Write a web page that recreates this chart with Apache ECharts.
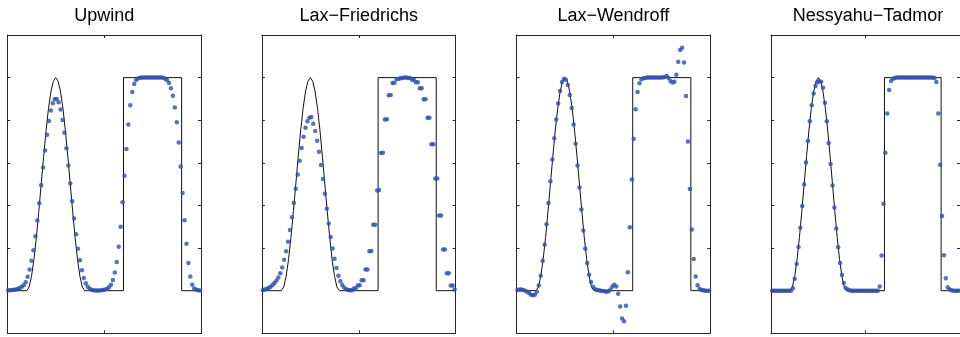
<!DOCTYPE html>
<html>
<head>
<meta charset="utf-8">
<script src="https://cdn.jsdelivr.net/npm/echarts@6/dist/echarts.min.js"></script>
<style>
  html, body { margin: 0; padding: 0; background: #fff; }
  #chart { width: 960px; height: 337px; }
</style>
</head>
<body>
<div id="chart"></div>
<script>
// scheme names, one per panel
const schemes = ["Upwind", "Lax\u2212Friedrichs", "Lax\u2212Wendroff", "Nessyahu\u2212Tadmor"]

// exact solution (bump + square)
const exactX = [-1, -0.8, -0.775, -0.75, -0.725, -0.7, -0.675, -0.65, -0.625, -0.6, -0.575, -0.55, -0.525,
  -0.5, -0.475, -0.45, -0.425, -0.4, -0.375, -0.35, -0.325, -0.3, -0.275, -0.25, -0.225, -0.2,
  0.2, 0.2, 0.8, 0.8, 1]
const exactU = [0, 0, 0.017, 0.067, 0.146, 0.25, 0.371, 0.5, 0.629, 0.75, 0.854, 0.933, 0.983,
  1, 0.983, 0.933, 0.854, 0.75, 0.629, 0.5, 0.371, 0.25, 0.146, 0.067, 0.017, 0,
  0, 1, 1, 0, 0]

// numerical solutions at the 100 cell centres
const upwind = [
  0.002, 0.002, 0.003, 0.004, 0.006, 0.009, 0.013, 0.018, 0.025, 0.040,
  0.065, 0.099, 0.140, 0.190, 0.255, 0.329, 0.410, 0.495, 0.578, 0.658,
  0.732, 0.796, 0.846, 0.880, 0.899, 0.900, 0.884, 0.850, 0.801, 0.741,
  0.669, 0.588, 0.503, 0.420, 0.339, 0.265, 0.197, 0.143, 0.096, 0.060,
  0.035, 0.019, 0.009, 0.004, 0.002, 0.001, 0.001, 0.001, 0.002, 0.003,
  0.005, 0.009, 0.016, 0.028, 0.050, 0.085, 0.135, 0.206, 0.300, 0.415,
  0.540, 0.665, 0.780, 0.870, 0.933, 0.970, 0.989, 0.996, 0.999, 1.000,
  1.000, 1.000, 1.000, 1.000, 1.000, 1.000, 1.000, 1.000, 1.000, 1.000,
  0.999, 0.995, 0.988, 0.975, 0.950, 0.915, 0.860, 0.790, 0.696, 0.583,
  0.458, 0.330, 0.220, 0.130, 0.067, 0.028, 0.010, 0.004, 0.002, 0.001
]
const laxFriedrichs = [
  0.002, 0.005, 0.008, 0.013, 0.019, 0.027, 0.036, 0.048, 0.062, 0.082,
  0.109, 0.145, 0.185, 0.230, 0.285, 0.345, 0.412, 0.478, 0.545, 0.610,
  0.670, 0.722, 0.765, 0.795, 0.812, 0.815, 0.784, 0.749, 0.704, 0.652,
  0.590, 0.524, 0.455, 0.385, 0.315, 0.252, 0.198, 0.150, 0.107, 0.070,
  0.044, 0.027, 0.014, 0.007, 0.003, 0.002, 0.002, 0.010, 0.011, 0.024,
  0.025, 0.049, 0.049, 0.099, 0.100, 0.185, 0.186, 0.309, 0.310, 0.470,
  0.472, 0.646, 0.647, 0.804, 0.805, 0.917, 0.918, 0.975, 0.976, 0.993,
  0.993, 0.997, 0.998, 1.000, 1.000, 0.998, 0.998, 0.990, 0.990, 0.978,
  0.978, 0.950, 0.950, 0.898, 0.898, 0.812, 0.812, 0.687, 0.687, 0.527,
  0.527, 0.353, 0.353, 0.193, 0.193, 0.082, 0.082, 0.024, 0.024, 0.005
]
const laxWendroff = [
  0.003, 0.005, 0.005, 0.003, 0.000, -0.005, -0.011, -0.019, -0.022, -0.019,
  -0.005, 0.024, 0.070, 0.141, 0.216, 0.312, 0.412, 0.514, 0.616, 0.715,
  0.804, 0.879, 0.937, 0.980, 0.995, 0.990, 0.965, 0.918, 0.857, 0.780,
  0.690, 0.588, 0.484, 0.381, 0.282, 0.197, 0.130, 0.075, 0.041, 0.019,
  0.008, 0.003, 0.002, 0.000, -0.002, -0.003, -0.005, -0.003, 0.005, 0.020,
  0.028, 0.020, -0.014, -0.074, -0.130, -0.143, -0.071, 0.086, 0.298, 0.522,
  0.713, 0.851, 0.933, 0.973, 0.992, 0.997, 0.998, 1.000, 1.000, 1.000,
  1.000, 1.000, 1.000, 1.000, 1.000, 1.001, 1.003, 1.008, 0.998, 0.984,
  0.977, 0.981, 1.013, 1.074, 1.130, 1.140, 1.071, 0.914, 0.700, 0.477,
  0.287, 0.149, 0.067, 0.025, 0.008, 0.003, 0.002, 0.000, 0.000, 0.000
]
const nessyahuTadmor = [
  0, 0, 0, 0, 0, 0, 0, 0, 0, 0,
  0.000, 0.011, 0.056, 0.125, 0.205, 0.295, 0.397, 0.498, 0.602, 0.702,
  0.795, 0.870, 0.926, 0.961, 0.978, 0.983, 0.981, 0.953, 0.882, 0.795,
  0.693, 0.594, 0.494, 0.390, 0.292, 0.204, 0.130, 0.074, 0.036, 0.013,
  0.005, 0.002, 0, 0, 0, 0, 0, 0, 0, 0,
  0, 0, 0, 0, 0, 0, 0, 0.020, 0.165, 0.408,
  0.647, 0.832, 0.942, 0.984, 0.995, 0.998, 1, 1, 1, 1,
  1, 1, 1, 1, 1, 1, 1, 1, 1, 1,
  1, 1, 1, 1, 1, 1, 0.998, 0.980, 0.832, 0.591,
  0.350, 0.166, 0.058, 0.016, 0.006, 0.002, 0, 0, 0, 0
]
const solutions = [upwind, laxFriedrichs, laxWendroff, nessyahuTadmor]

// uniform grid of cell centres on [-1, 1]
const CELL_X0 = -0.99
const CELL_DX = 0.02

const PANEL_LEFT = 7.3
const PANEL_STEP = 254.6
const PANEL_W = 193.7
const PANEL_TOP = 35
const PANEL_H = 298.3

const frame = { color: "#262626", width: 1 }

function axisBase(extra) {
  return Object.assign({
    type: "value",
    axisLine: { show: true, onZero: false, lineStyle: frame },
    axisTick: { show: true, inside: true, length: 3, lineStyle: frame },
    axisLabel: { show: false },
    splitLine: { show: false },
  }, extra)
}

const grid = []
const xAxis = []
const yAxis = []
const series = []
const title = []

schemes.forEach((name, i) => {
  const left = PANEL_LEFT + PANEL_STEP * i
  grid.push({ left, top: PANEL_TOP, width: PANEL_W, height: PANEL_H })
  title.push({
    text: name,
    left: left + PANEL_W / 2,
    top: 7,
    padding: 0,
    textAlign: "center",
    textStyle: { fontFamily: "Liberation Sans", fontSize: 18, fontWeight: "normal", color: "#000" },
  })
  xAxis.push(axisBase({ gridIndex: i, min: -1, max: 1, interval: 1, position: "bottom" }))
  xAxis.push(axisBase({ gridIndex: i, min: -1, max: 1, interval: 1, position: "top" }))
  yAxis.push(axisBase({ gridIndex: i, min: -0.2, max: 1.2, interval: 0.2, position: "left" }))
  yAxis.push(axisBase({ gridIndex: i, min: -0.2, max: 1.2, interval: 0.2, position: "right" }))

  series.push({
    type: "line",
    xAxisIndex: 2 * i,
    yAxisIndex: 2 * i,
    data: exactX.map((x, k) => [x, exactU[k]]),
    showSymbol: false,
    lineStyle: { color: "#111", width: 1 },
    z: 2,
  })
  series.push({
    type: "scatter",
    xAxisIndex: 2 * i,
    yAxisIndex: 2 * i,
    data: solutions[i].map((u, k) => [CELL_X0 + CELL_DX * k, u]),
    symbolSize: 4.5,
    itemStyle: { color: "#2f4fab" },
    z: 3,
  })
})

const chart = echarts.init(document.getElementById("chart"), null, { renderer: "canvas" })
chart.setOption({ animation: false, title, grid, xAxis, yAxis, series })
</script>
</body>
</html>
